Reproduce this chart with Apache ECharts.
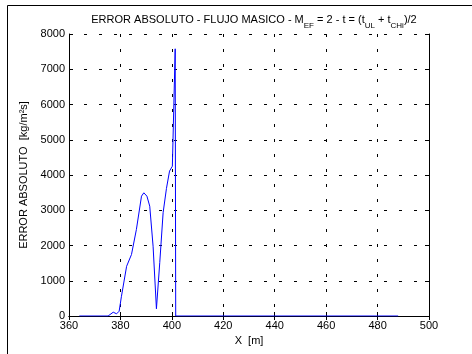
<!DOCTYPE html>
<html>
<head>
<meta charset="utf-8">
<script src="https://cdn.jsdelivr.net/npm/echarts@6/dist/echarts.min.js"></script>
<style>
html,body{margin:0;padding:0;background:#fff;}
#c{width:472px;height:354px;}
</style>
</head>
<body>
<div id="c"></div>
<script>
// Data
var xPos = [364.0, 375.2, 377.2, 378.5, 379.5, 380.4, 382.4, 384.3, 386.2, 388.2, 389.1, 390.3, 391.4, 392.7, 394.0, 395.3, 396.6, 397.9, 399.1, 400.2, 401.3, 401.5, 402.0, 488.0];
var errVal = [0, 0, 108, 62, 136, 560, 1410, 1745, 2450, 3400, 3495, 3400, 3115, 1980, 205, 1520, 2930, 3620, 4110, 4250, 7580, 0, 0, 0];
var xTicks = [360, 380, 400, 420, 440, 460, 480, 500];
var yTicks = [0, 1000, 2000, 3000, 4000, 5000, 6000, 7000, 8000];

var FONT = 'Liberation Sans';
var data = xPos.map(function (x, i) { return [x, errVal[i]]; });

var chart = echarts.init(document.getElementById('c'), null, {renderer: 'canvas'});
var grid = {left: 69, right: 43, top: 34, bottom: 38};
var gridLine = {show: true, lineStyle: {color: '#000', type: [3, 12], width: 1}};
var tick = {show: true, inside: true, length: 4, lineStyle: {color: '#000'}};
var axLine = {show: true, lineStyle: {color: '#000', width: 1}};
var plain = function (v) { return String(v); };

chart.setOption({
  backgroundColor: '#fff',
  animation: false,
  title: {
    left: 249, textAlign: 'center', top: 9,
    text: '{a|ERROR ABSOLUTO - FLUJO MASICO - M}{s|EF}{a| = 2 - t = (t}{s|UL}{a| + t}{s|CHi}{a|)/2}',
    textStyle: {
      fontWeight: 'normal',
      rich: {
        a: {fontFamily: FONT, fontSize: 11, fontWeight: 'normal', color: '#000', lineHeight: 14, verticalAlign: 'top'},
        s: {fontFamily: FONT, fontSize: 8, fontWeight: 'normal', color: '#000', lineHeight: 8, padding: [8, 0, 0, 0], verticalAlign: 'top'}
      }
    }
  },
  graphic: [
    {type: 'line', shape: {x1: 7.5, y1: 5.5, x2: 7.5, y2: 354}, style: {stroke: '#000', lineWidth: 1}},
    {type: 'line', shape: {x1: 7.5, y1: 5.5, x2: 472, y2: 5.5}, style: {stroke: '#000', lineWidth: 1}}
  ],
  grid: grid,
  xAxis: [{
    type: 'value', min: xTicks[0], max: xTicks[xTicks.length - 1], interval: 20,
    axisLine: axLine, axisTick: tick, splitLine: gridLine,
    axisLabel: {color: '#000', fontFamily: FONT, fontSize: 11, margin: 4, formatter: plain},
    name: 'X  [m]', nameLocation: 'middle', nameGap: 19,
    nameTextStyle: {color: '#000', fontFamily: FONT, fontSize: 11}
  }, {
    type: 'value', position: 'top', min: xTicks[0], max: xTicks[xTicks.length - 1], interval: 20,
    axisLine: axLine, axisTick: tick, splitLine: {show: false}, axisLabel: {show: false}
  }],
  yAxis: [{
    type: 'value', min: yTicks[0], max: yTicks[yTicks.length - 1], interval: 1000,
    axisLine: axLine, axisTick: tick, splitLine: gridLine,
    axisLabel: {color: '#000', fontFamily: FONT, fontSize: 11, margin: 4, formatter: plain},
    name: 'ERROR ABSOLUTO  [kg/m²s]', nameLocation: 'middle', nameGap: 34,
    nameTextStyle: {color: '#000', fontFamily: FONT, fontSize: 11}
  }, {
    type: 'value', position: 'right', min: yTicks[0], max: yTicks[yTicks.length - 1], interval: 1000,
    axisLine: axLine, axisTick: tick, splitLine: {show: false}, axisLabel: {show: false}
  }],
  series: [{
    type: 'line', data: data, showSymbol: false, symbol: 'none',
    lineStyle: {color: '#0000ff', width: 1}, itemStyle: {color: '#0000ff'}
  }]
});
</script>
</body>
</html>
